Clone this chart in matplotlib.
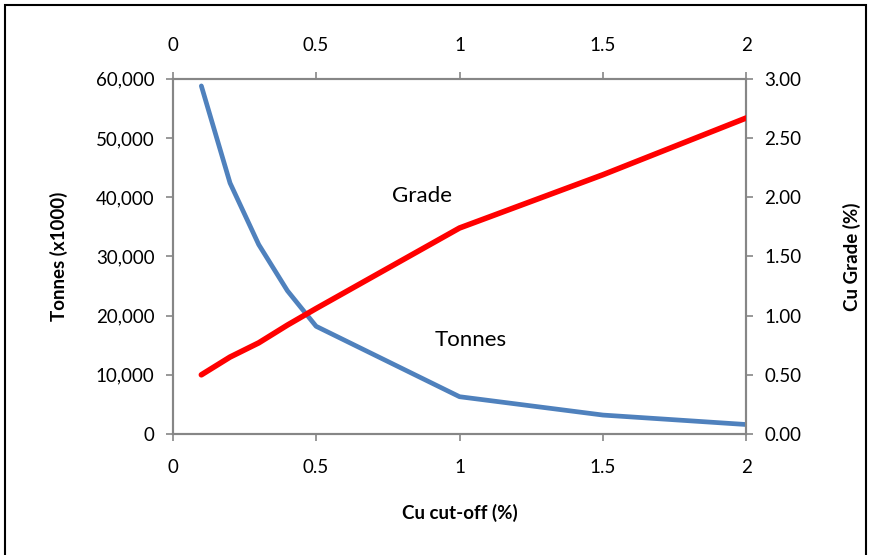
import matplotlib.pyplot as plt
from matplotlib.patches import Rectangle
from matplotlib.ticker import FuncFormatter, MultipleLocator

plt.rcParams['font.family'] = ['Lato', 'DejaVu Sans']

cutoff = [0.1, 0.2, 0.3, 0.4, 0.5, 1.0, 1.5, 2.0]
tonnes = [58800, 42400, 32000, 24200, 18200, 6300, 3200, 1600]
grade = [0.50, 0.65, 0.77, 0.92, 1.06, 1.74, 2.19, 2.67]

axis_grey = '#868686'

fig = plt.figure(figsize=(8.72, 5.55), dpi=100)
ax = fig.add_axes([0.198, 0.218, 0.658, 0.640])
ax2 = ax.twinx()

ax.plot(cutoff, tonnes, color='#4F81BD', lw=3.4, solid_capstyle='round', zorder=3)
ax2.plot(cutoff, grade, color='#FF0000', lw=4.0, solid_capstyle='round', zorder=3)

ax.set_xlim(0, 2)
ax.set_ylim(0, 60000)
ax2.set_ylim(0, 3.0)
ax.xaxis.set_major_locator(MultipleLocator(0.5))
ax.yaxis.set_major_locator(MultipleLocator(10000))
ax2.yaxis.set_major_locator(MultipleLocator(0.5))
ax.xaxis.set_major_formatter(FuncFormatter(lambda v, p: f'{v:g}'))
ax.yaxis.set_major_formatter(FuncFormatter(lambda v, p: f'{v:,.0f}'))
ax2.yaxis.set_major_formatter(FuncFormatter(lambda v, p: f'{v:.2f}'))

for a in (ax, ax2):
    for s in a.spines.values():
        s.set_color(axis_grey)
        s.set_linewidth(1.5)
    a.tick_params(colors=axis_grey, labelcolor='black', labelsize=13.5,
                  length=5, width=1.2, direction='out', pad=8)
ax.tick_params(axis='x', top=True, labeltop=True, pad=13)

ax.set_xlabel('Cu cut-off (%)', fontsize=13.5, fontweight='bold', labelpad=20)
ax.set_ylabel('Tonnes (x1000)', fontsize=13.5, fontweight='bold', labelpad=20)
ax2.set_ylabel('Cu Grade (%)', fontsize=13.5, fontweight='bold', labelpad=30)

ax.text(0.87, 40200, 'Grade', fontsize=16, ha='center', va='center')
ax.text(1.04, 15900, 'Tonnes', fontsize=16, ha='center', va='center')

fig.patches.append(Rectangle((5 / 872, -0.05), 861 / 872, 1.05 - 5 / 555,
                             transform=fig.transFigure, fill=False,
                             edgecolor='black', lw=1.5))

fig.savefig('out.png', dpi=100)
